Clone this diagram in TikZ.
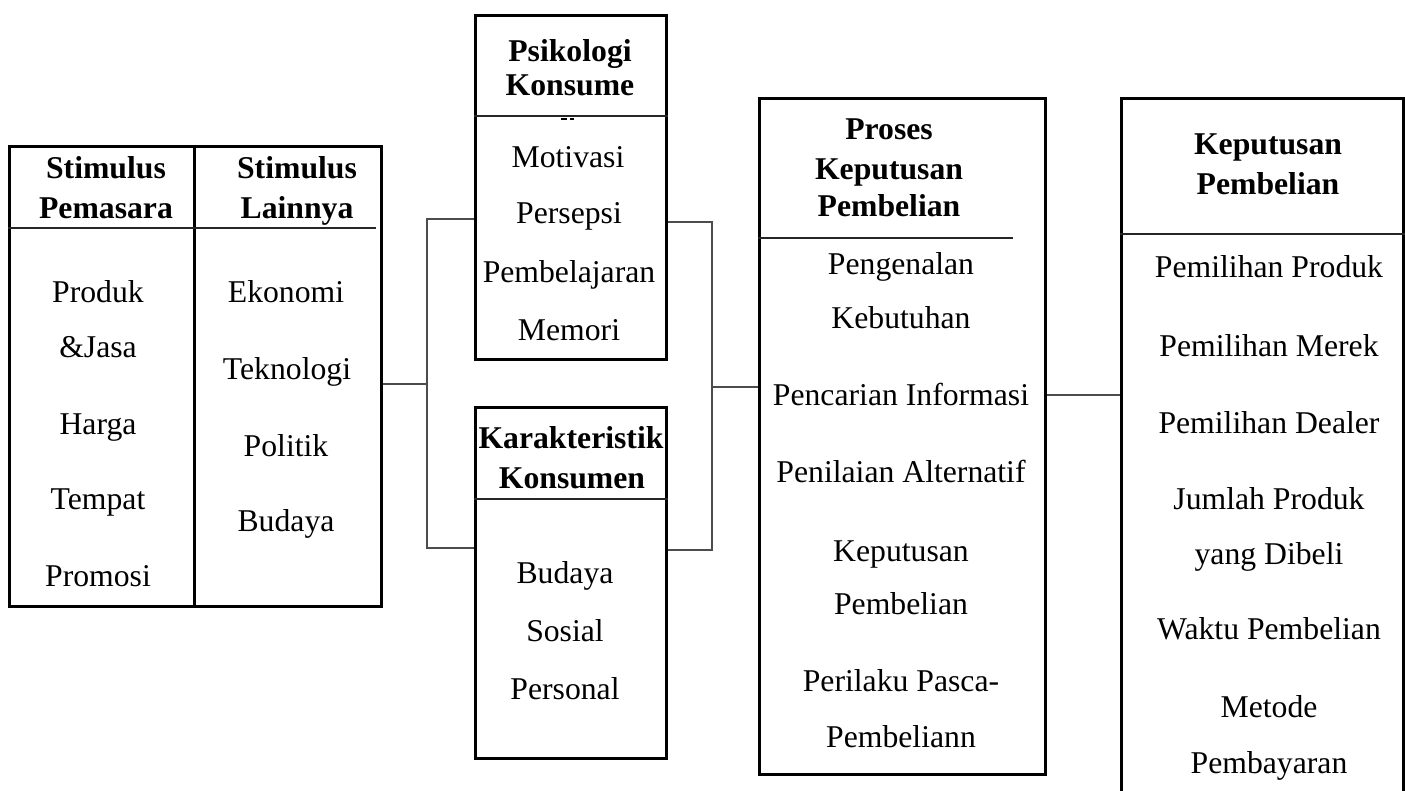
\documentclass[tikz,border=0pt]{standalone}
\usepackage{fontspec}
\setmainfont{Liberation Serif}
\begin{document}
\begin{tikzpicture}[x=1pt,y=-1pt,
  box/.style={draw=black, line width=2.8pt, inner sep=0pt, anchor=north west},
  hline/.style={line width=1.3pt, black!85},
  conn/.style={line width=1.3pt, black!70},
  item/.style={font=\fontsize{31.7}{38}\selectfont, inner sep=0pt, anchor=base},
  head/.style={font=\fontsize{31.7}{38}\selectfont\bfseries, inner sep=0pt, anchor=base}]
\useasboundingbox (0,0) rectangle (1405,791);

% boxes
\node[box, minimum width=185pt, minimum height=460pt] (b1) at (8,145) {};
\node[box, minimum width=187pt, minimum height=460pt] (b2) at (193,145) {};
\node[box, minimum width=191pt, minimum height=344pt] (psi) at (474,14) {};
\node[box, minimum width=191pt, minimum height=351pt] (kar) at (474,406) {};
\node[box, minimum width=286pt, minimum height=676pt] (pro) at (758,97) {};
\node[box, minimum width=282pt, minimum height=720pt] (kep) at (1120,97) {};

% header dividers
\draw[hline] (b1.west |- 0,228) -- (b1.east |- 0,228);
\draw[hline] (b2.west |- 0,228) -- (376,228);
\draw[hline] (psi.west |- 0,116) -- (psi.east |- 0,116);
\draw[hline] (kar.west |- 0,499) -- (kar.east |- 0,499);
\draw[hline] (pro.west |- 0,238) -- (1013,238);
\draw[hline] (kep.west |- 0,234) -- (kep.east |- 0,234);
\draw[line width=1.1pt] (561,119) -- (567,119) (569.5,119) -- (574,119);

% connectors
\coordinate (lt) at (427,219);
\coordinate (lm) at (427,384);
\coordinate (lb) at (427,548);
\coordinate (rt) at (712,222);
\coordinate (rm) at (712,387);
\coordinate (rb) at (712,550);
\coordinate (pk) at (1080,395);
\draw[conn] (b2.east |- lm) -- (lm);
\draw[conn] (psi.west |- lt) -- (lt) -- (lb) -- (kar.west |- lb);
\draw[conn] (psi.east |- rt) -- (rt) -- (rb) -- (kar.east |- rb);
\draw[conn] (rm) -- (pro.west |- rm);
\draw[conn] (pro.east |- pk) -- (kep.west |- pk);

% box 1
\node[head] (h1a) at (106,179) {Stimulus};
\node[head] (h1b) at (106,219) {Pemasara};
\node[item] (t11) at (98,303) {Produk};
\node[item] (t12) at (98,358) {\&Jasa};
\node[item] (t13) at (98,434) {Harga};
\node[item] (t14) at (98,509) {Tempat};
\node[item] (t15) at (98,586) {Promosi};

% box 2
\node[head] (h2a) at (297,179) {Stimulus};
\node[head] (h2b) at (297,219) {Lainnya};
\node[item] (t21) at (286,303) {Ekonomi};
\node[item] (t22) at (287,379) {Teknologi};
\node[item] (t23) at (286,456) {Politik};
\node[item] (t24) at (286,531) {Budaya};

% psikologi
\node[head] (h3a) at (570,62) {Psikologi};
\node[head] (h3b) at (570,96) {Konsume};
\node[item] (t31) at (568,168) {Motivasi};
\node[item] (t32) at (569,224) {Persepsi};
\node[item] (t33) at (569,283) {Pembelajaran};
\node[item] (t34) at (569,341) {Memori};

% karakteristik
\node[head] (h4a) at (571,448) {Karakteristik};
\node[head] (h4b) at (572,488) {Konsumen};
\node[item] (t41) at (565,583) {Budaya};
\node[item] (t42) at (565,641) {Sosial};
\node[item] (t43) at (565,699) {Personal};

% proses
\node[head] (h5a) at (889,140) {Proses};
\node[head] (h5b) at (889,180) {Keputusan};
\node[head] (h5c) at (889,217) {Pembelian};
\node[item] (t51) at (901,275) {Pengenalan};
\node[item] (t52) at (901,329) {Kebutuhan};
\node[item] (t53) at (901,405) {Pencarian Informasi};
\node[item] (t54) at (901,482) {Penilaian Alternatif};
\node[item] (t55) at (901,561) {Keputusan};
\node[item] (t56) at (901,614) {Pembelian};
\node[item] (t57) at (901,691) {Perilaku Pasca-};
\node[item] (t58) at (901,747) {Pembeliann};

% keputusan
\node[head] (h6a) at (1268,155) {Keputusan};
\node[head] (h6b) at (1268,195) {Pembelian};
\node[item] (t61) at (1269,278) {Pemilihan Produk};
\node[item] (t62) at (1269,356) {Pemilihan Merek};
\node[item] (t63) at (1269,433) {Pemilihan Dealer};
\node[item] (t64) at (1269,509) {Jumlah Produk};
\node[item] (t65) at (1269,564) {yang Dibeli};
\node[item] (t66) at (1269,639) {Waktu Pembelian};
\node[item] (t67) at (1269,717) {Metode};
\node[item] (t68) at (1269,773) {Pembayaran};
\end{tikzpicture}
\end{document}
